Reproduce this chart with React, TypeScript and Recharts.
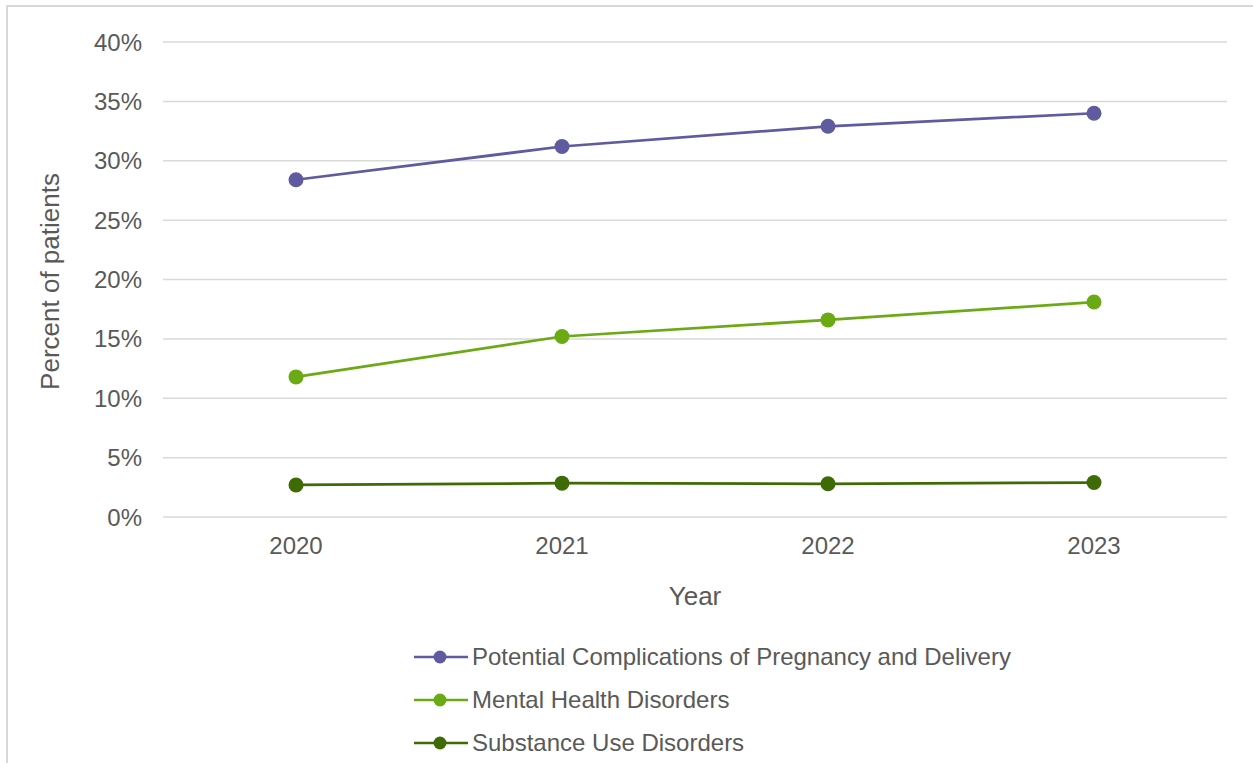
import React from "react";
import { LineChart, Line, XAxis, YAxis, CartesianGrid, Legend } from "recharts";

const years = ["2020", "2021", "2022", "2023"];
const pregnancyComplications = [28.4, 31.2, 32.9, 34.0];
const mentalHealth = [11.8, 15.2, 16.6, 18.1];
const substanceUse = [2.7, 2.85, 2.8, 2.9];
const yTicks = [0, 5, 10, 15, 20, 25, 30, 35, 40];

const SERIES = [
  { key: "pregnancy", name: "Potential Complications of Pregnancy and Delivery", color: "#5f5ba0" },
  { key: "mental", name: "Mental Health Disorders", color: "#6baa15" },
  { key: "substance", name: "Substance Use Disorders", color: "#3e6b06" },
];

const data = years.map((year, i) => ({
  year,
  pregnancy: pregnancyComplications[i],
  mental: mentalHealth[i],
  substance: substanceUse[i],
}));

const FONT = '"Liberation Sans", Arial, sans-serif';
const TEXT = "#595959";

function LegendList() {
  return (
    <div style={{ fontFamily: FONT }}>
      {SERIES.map((s) => (
        <div key={s.key} style={{ display: "flex", alignItems: "center", height: 43 }}>
          <svg width={56} height={16}>
            <line x1={1} y1={8} x2={55} y2={8} stroke={s.color} strokeWidth={2.5} />
            <circle cx={27} cy={8} r={6.5} fill={s.color} />
          </svg>
          <span style={{ fontSize: 24, color: TEXT, marginLeft: 3 }}>{s.name}</span>
        </div>
      ))}
    </div>
  );
}

export default function App() {
  return (
    <div
      style={{
        position: "absolute",
        left: 0,
        top: 0,
        width: 1253,
        height: 763,
        overflow: "hidden",
        background: "#fff",
      }}
    >
      {/* chart frame, only its left and top edges are in view */}
      <div
        style={{
          position: "absolute",
          left: 6,
          top: 5,
          width: 1400,
          height: 900,
          borderLeft: "2px solid #d9d9d9",
          borderTop: "2px solid #d9d9d9",
        }}
      />
      <LineChart
        width={1253}
        height={763}
        data={data}
        margin={{ top: 42, right: 26, bottom: 155, left: 0 }}
        style={{ fontFamily: FONT }}
      >
        <CartesianGrid vertical={false} stroke="#d9d9d9" strokeWidth={1.5} />
        <XAxis
          dataKey="year"
          axisLine={false}
          tickLine={false}
          tickSize={0}
          tickMargin={20}
          height={91}
          padding={{ left: 133, right: 133 }}
          tick={{ fill: TEXT, fontSize: 24 }}
          label={{
            content: ({ viewBox }: any) => (
              <text
                x={viewBox.x + viewBox.width / 2}
                y={viewBox.y + 88}
                textAnchor="middle"
                fill={TEXT}
                fontSize={26}
                fontFamily={FONT}
              >
                Year
              </text>
            ),
          }}
        />
        <YAxis
          domain={[0, 40]}
          ticks={yTicks}
          interval={0}
          axisLine={false}
          tickLine={false}
          tickSize={0}
          tickMargin={21}
          width={163}
          tickFormatter={(v: number) => `${v}%`}
          tick={{ fill: TEXT, fontSize: 24 }}
          label={{
            content: ({ viewBox }: any) => {
              const cx = 59;
              const cy = viewBox.y + viewBox.height / 2 + 2;
              return (
                <text
                  x={cx}
                  y={cy}
                  transform={`rotate(-90 ${cx} ${cy})`}
                  textAnchor="middle"
                  fill={TEXT}
                  fontSize={26}
                  fontFamily={FONT}
                >
                  Percent of patients
                </text>
              );
            },
          }}
        />
        {SERIES.map((s) => (
          <Line
            key={s.key}
            dataKey={s.key}
            name={s.name}
            stroke={s.color}
            strokeWidth={2.75}
            dot={{ r: 7.5, fill: s.color, stroke: s.color, strokeWidth: 0 }}
            activeDot={false}
            isAnimationActive={false}
          />
        ))}
        <Legend
          layout="horizontal"
          verticalAlign="middle"
          align="center"
          content={() => <LegendList />}
          wrapperStyle={{ left: 413, top: 635, width: 700, height: 130 }}
        />
      </LineChart>
    </div>
  );
}
